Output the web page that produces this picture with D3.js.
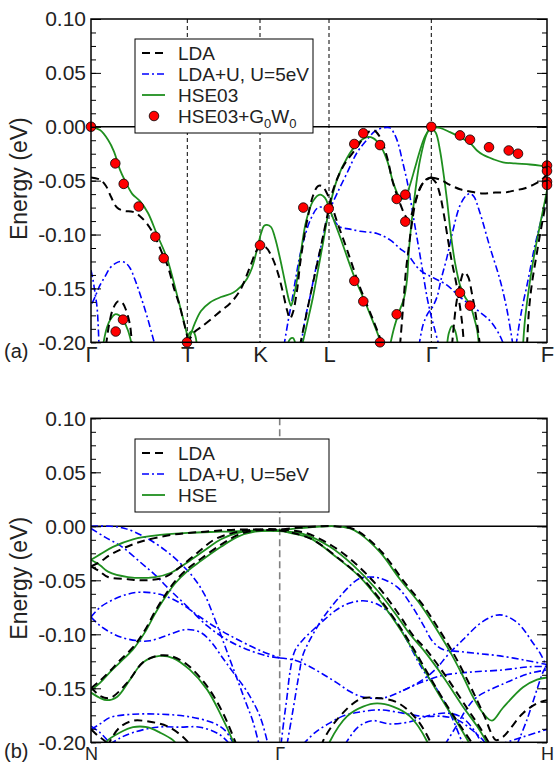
<!DOCTYPE html>
<html><head><meta charset="utf-8">
<script src="https://cdn.jsdelivr.net/npm/d3@7"></script>
<style>
body{margin:0;background:#fff}
svg{display:block}
</style>
</head><body>
<svg id="chart" width="554" height="764"></svg>
<script>
// ---- k-paths (arbitrary path-length units) ----
const pathA = [["Γ",0],["T",0.963],["K",1.69],["L",2.38],["Γ",3.403],["F",4.56]];
const pathB = [["N",0],["Γ",1.887],["H",4.56]];
const yTickVals = [0.10,0.05,0.00,-0.05,-0.10,-0.15,-0.20];
const yTickText = ["0.10","0.05","0.00","-0.05","-0.10","-0.15","-0.20"];

// ---- panel (a): bands as [k, E(eV)] ----
const ldaA = [
 [[0,-0.047],[0.09,-0.049],[0.15,-0.055],[0.20,-0.065],[0.26,-0.075],[0.33,-0.078],[0.42,-0.079],[0.49,-0.083],[0.56,-0.090],[0.64,-0.102],[0.71,-0.117],[0.77,-0.130],[0.83,-0.150],[0.88,-0.164],[0.93,-0.182],[0.97,-0.198],[0.98,-0.204]],
 [[0.96,-0.201],[1.04,-0.190],[1.10,-0.186],[1.22,-0.177],[1.31,-0.170],[1.39,-0.164],[1.49,-0.152],[1.59,-0.130],[1.65,-0.116],[1.69,-0.111],[1.75,-0.112],[1.81,-0.121],[1.87,-0.136],[1.92,-0.154],[1.96,-0.170],[1.99,-0.178],[2.02,-0.172],[2.06,-0.152],[2.09,-0.128],[2.13,-0.103],[2.17,-0.083],[2.22,-0.064],[2.27,-0.055],[2.31,-0.055],[2.35,-0.060],[2.40,-0.071],[2.46,-0.088],[2.56,-0.114],[2.69,-0.149],[2.82,-0.179],[2.92,-0.203]],
 [[2.09,-0.203],[2.19,-0.158],[2.29,-0.115],[2.36,-0.084],[2.42,-0.059],[2.52,-0.037],[2.66,-0.019],[2.76,-0.006],[2.82,-0.003],[2.89,-0.0096],[2.96,-0.028],[3.02,-0.052],[3.09,-0.071],[3.14,-0.082],[3.18,-0.087],[3.22,-0.077],[3.27,-0.062],[3.33,-0.051],[3.40,-0.047]],
 [[3.09,-0.203],[3.11,-0.180],[3.13,-0.156],[3.15,-0.133],[3.18,-0.110],[3.21,-0.089],[3.25,-0.068],[3.30,-0.055],[3.35,-0.049],[3.40,-0.047]],
 [[3.40,-0.047],[3.45,-0.052],[3.49,-0.063],[3.53,-0.082],[3.57,-0.105],[3.61,-0.126],[3.65,-0.144],[3.68,-0.161],[3.71,-0.181],[3.73,-0.203]],
 [[3.61,-0.203],[3.65,-0.166],[3.69,-0.146],[3.73,-0.135],[3.77,-0.139],[3.81,-0.155],[3.85,-0.176],[3.89,-0.203]],
 [[3.40,-0.047],[3.49,-0.049],[3.59,-0.054],[3.69,-0.058],[3.79,-0.060],[3.92,-0.062],[4.04,-0.061],[4.14,-0.061],[4.24,-0.059],[4.34,-0.057],[4.44,-0.053],[4.51,-0.049],[4.56,-0.044]],
 [[4.56,-0.064],[4.53,-0.080],[4.49,-0.100],[4.45,-0.122],[4.41,-0.145],[4.38,-0.170],[4.36,-0.203]],
 [[0.15,-0.203],[0.18,-0.184],[0.22,-0.169],[0.27,-0.162],[0.31,-0.163],[0.35,-0.170],[0.39,-0.184],[0.41,-0.203]]
];
const ldauA = [
 [[0.01,-0.164],[0.04,-0.158],[0.09,-0.147],[0.14,-0.139],[0.19,-0.131],[0.24,-0.127],[0.29,-0.125],[0.34,-0.126],[0.39,-0.131],[0.44,-0.142],[0.50,-0.158],[0.57,-0.179],[0.64,-0.203]],
 [[0,-0.133],[0.02,-0.142],[0.04,-0.154],[0.06,-0.167],[0.07,-0.181],[0.08,-0.203]],
 [[1.93,-0.203],[1.97,-0.181],[2.01,-0.161],[2.05,-0.139],[2.09,-0.119],[2.14,-0.101],[2.20,-0.085],[2.27,-0.075],[2.33,-0.075],[2.38,-0.078],[2.44,-0.088],[2.49,-0.093],[2.59,-0.095],[2.69,-0.097],[2.86,-0.099],[2.99,-0.105],[3.09,-0.113],[3.16,-0.118],[3.29,-0.133],[3.42,-0.140],[3.56,-0.147],[3.69,-0.158],[3.86,-0.170],[3.99,-0.180],[4.09,-0.194],[4.13,-0.203]],
 [[2.10,-0.203],[2.14,-0.179],[2.19,-0.158],[2.24,-0.135],[2.29,-0.115],[2.34,-0.094],[2.39,-0.077],[2.46,-0.062],[2.56,-0.043],[2.66,-0.024],[2.76,-0.012],[2.84,-0.004],[2.92,-0.001],[2.99,-0.001],[3.03,-0.006],[3.07,-0.015],[3.12,-0.034],[3.16,-0.050],[3.19,-0.065],[3.23,-0.087],[3.26,-0.103],[3.31,-0.130],[3.36,-0.158],[3.40,-0.175],[3.44,-0.189],[3.48,-0.203]],
 [[3.28,-0.203],[3.32,-0.184],[3.37,-0.173],[3.41,-0.168],[3.46,-0.158],[3.50,-0.142],[3.56,-0.121],[3.62,-0.096],[3.69,-0.073],[3.75,-0.064],[3.79,-0.062],[3.83,-0.065],[3.89,-0.080],[3.99,-0.112],[4.09,-0.142],[4.16,-0.170],[4.22,-0.203]],
 [[4.25,-0.203],[4.29,-0.179],[4.32,-0.164],[4.36,-0.147],[4.39,-0.133],[4.43,-0.114],[4.46,-0.102],[4.50,-0.087],[4.53,-0.075],[4.56,-0.063]]
];
const hseA = [
 [[0,0],[0.09,-0.003],[0.17,-0.012],[0.23,-0.023],[0.29,-0.040],[0.34,-0.050],[0.41,-0.062],[0.49,-0.069],[0.57,-0.080],[0.66,-0.100],[0.76,-0.122],[0.86,-0.156],[0.94,-0.185],[0.98,-0.200],[0.99,-0.205]],
 [[0.97,-0.200],[1.00,-0.192],[1.04,-0.182],[1.10,-0.171],[1.19,-0.163],[1.30,-0.158],[1.42,-0.154],[1.50,-0.148],[1.56,-0.141],[1.61,-0.131],[1.66,-0.114],[1.70,-0.099],[1.73,-0.092],[1.76,-0.091],[1.80,-0.093],[1.84,-0.103],[1.89,-0.122],[1.94,-0.144],[1.98,-0.161],[2.00,-0.166],[2.02,-0.161],[2.06,-0.142],[2.10,-0.116],[2.15,-0.088],[2.22,-0.069],[2.29,-0.063],[2.34,-0.066],[2.38,-0.075],[2.49,-0.102],[2.62,-0.136],[2.76,-0.167],[2.89,-0.198],[2.91,-0.205]],
 [[0.94,-0.203],[0.97,-0.194],[1.00,-0.190],[1.03,-0.191],[1.06,-0.203]],
 [[1.96,-0.204],[1.99,-0.197],[2.02,-0.196],[2.05,-0.204]],
 [[2.11,-0.203],[2.17,-0.179],[2.22,-0.158],[2.27,-0.133],[2.32,-0.108],[2.38,-0.077],[2.46,-0.049],[2.56,-0.029],[2.66,-0.016],[2.76,-0.0096],[2.82,-0.0105],[2.89,-0.017],[2.96,-0.031],[3.02,-0.051],[3.07,-0.063],[3.11,-0.067],[3.15,-0.064],[3.19,-0.054],[3.24,-0.038],[3.29,-0.022],[3.34,-0.009],[3.40,0]],
 [[3.40,0],[3.36,-0.006],[3.29,-0.031],[3.22,-0.077],[3.18,-0.114],[3.16,-0.142],[3.13,-0.159],[3.08,-0.172],[3.03,-0.187],[2.99,-0.203]],
 [[3.40,0],[3.45,-0.006],[3.49,-0.022],[3.52,-0.040],[3.56,-0.068],[3.60,-0.101],[3.64,-0.126],[3.69,-0.147],[3.74,-0.158],[3.79,-0.165],[3.83,-0.177],[3.86,-0.188],[3.88,-0.203]],
 [[3.40,0],[3.49,-0.001],[3.59,-0.005],[3.69,-0.0096],[3.79,-0.015],[3.86,-0.022],[3.92,-0.026],[4.02,-0.030],[4.12,-0.033],[4.24,-0.034],[4.39,-0.035],[4.49,-0.036],[4.56,-0.037]],
 [[4.56,-0.059],[4.53,-0.073],[4.49,-0.091],[4.45,-0.110],[4.41,-0.131],[4.37,-0.156],[4.34,-0.179],[4.32,-0.203]],
 [[3.56,-0.203],[3.58,-0.191],[3.61,-0.185],[3.64,-0.189],[3.67,-0.203]],
 [[0.12,-0.203],[0.16,-0.186],[0.20,-0.178],[0.24,-0.174],[0.28,-0.175],[0.33,-0.181],[0.37,-0.189],[0.41,-0.203]]
];
// HSE03+G0W0 quasiparticle points
const gwA = [[0,0],[0.243,-0.034],[0.327,-0.053],[0.477,-0.074],[0.643,-0.102],[0.727,-0.122],[0.32,-0.179],[0.247,-0.190],[0.96,-0.200],[1.69,-0.110],
 [2.123,-0.075],[2.377,-0.076],[2.633,-0.143],[2.723,-0.162],[2.89,-0.200],[3.057,-0.067],[3.143,-0.063],[3.143,-0.088],[3.057,-0.174],[3.69,-0.154],[3.79,-0.166],
 [2.723,-0.006],[2.633,-0.016],[2.89,-0.017],[3.403,0],[3.69,-0.008],[3.79,-0.012],[3.98,-0.019],[4.177,-0.022],[4.27,-0.025],
 [4.56,-0.036],[4.56,-0.041],[4.56,-0.051],[4.56,-0.054]];

// ---- panel (b) ----
const ldaB = [
 [[0,-0.037],[0.09,-0.033],[0.20,-0.026],[0.47,-0.015],[0.80,-0.008],[1.14,-0.005],[1.47,-0.003],[1.80,-0.0035],[1.89,-0.004],[2.01,-0.006],[2.21,-0.012],[2.48,-0.030],[2.71,-0.048],[2.91,-0.070],[3.08,-0.092],[3.21,-0.111],[3.41,-0.143],[3.58,-0.169],[3.71,-0.187],[3.82,-0.202]],
 [[0,-0.037],[0.09,-0.042],[0.17,-0.047],[0.37,-0.049],[0.54,-0.050],[0.74,-0.047],[0.90,-0.037],[1.07,-0.024],[1.24,-0.012],[1.47,-0.005],[1.74,-0.0026],[1.89,-0.003],[2.14,-0.006],[2.41,-0.018],[2.65,-0.035],[2.89,-0.058],[3.09,-0.083],[3.22,-0.101],[3.35,-0.114],[3.55,-0.139],[3.75,-0.167],[3.88,-0.185],[3.99,-0.202]],
 [[0,-0.150],[0.09,-0.143],[0.19,-0.134],[0.29,-0.124],[0.42,-0.112],[0.54,-0.096],[0.64,-0.079],[0.74,-0.064],[0.84,-0.051],[0.97,-0.039],[1.10,-0.030],[1.30,-0.017],[1.47,-0.008],[1.64,-0.004],[1.89,-0.003],[2.09,-0.0012],[2.29,0],[2.44,0],[2.61,-0.002],[2.71,-0.007],[2.91,-0.024],[3.12,-0.050],[3.32,-0.073],[3.49,-0.097],[3.62,-0.117],[3.74,-0.138],[3.85,-0.159],[3.94,-0.177],[4.00,-0.191],[4.05,-0.198],[4.12,-0.195],[4.32,-0.173],[4.46,-0.164],[4.56,-0.161]],
 [[0,-0.149],[0.09,-0.157],[0.19,-0.159],[0.36,-0.145],[0.52,-0.126],[0.66,-0.120],[0.79,-0.120],[0.96,-0.128],[1.16,-0.148],[1.32,-0.173],[1.44,-0.199],[1.46,-0.204]],
 [[0,-0.188],[0.07,-0.194],[0.14,-0.199],[0.17,-0.204]],
 [[0.17,-0.204],[0.19,-0.199],[0.29,-0.186],[0.42,-0.180],[0.59,-0.181],[0.76,-0.185],[0.92,-0.195],[1.01,-0.204]],
 [[2.31,-0.204],[2.32,-0.199],[2.46,-0.179],[2.69,-0.160],[2.86,-0.159],[3.06,-0.163],[3.26,-0.179],[3.39,-0.199],[3.41,-0.204]]
];
const ldauB = [
 [[0,0],[0.19,0],[0.34,-0.002],[0.54,-0.010],[0.74,-0.022],[0.89,-0.034],[1.03,-0.048],[1.14,-0.064],[1.23,-0.084],[1.32,-0.106],[1.42,-0.131],[1.54,-0.161],[1.62,-0.181],[1.68,-0.202]],
 [[0,-0.002],[0.14,-0.010],[0.31,-0.019],[0.49,-0.033],[0.64,-0.045],[0.79,-0.059],[0.96,-0.074],[1.16,-0.092],[1.36,-0.105],[1.56,-0.114],[1.76,-0.120],[1.89,-0.122]],
 [[0,-0.084],[0.09,-0.075],[0.22,-0.068],[0.36,-0.063],[0.49,-0.061],[0.69,-0.063],[0.89,-0.071],[1.09,-0.084],[1.29,-0.096],[1.49,-0.106],[1.69,-0.115],[1.89,-0.122]],
 [[0,-0.084],[0.09,-0.092],[0.19,-0.098],[0.31,-0.103],[0.47,-0.106],[0.59,-0.106],[0.76,-0.101],[0.92,-0.096],[1.02,-0.096],[1.11,-0.099],[1.21,-0.108],[1.31,-0.121],[1.42,-0.135],[1.56,-0.153],[1.69,-0.176],[1.77,-0.202]],
 [[0,-0.188],[0.09,-0.183],[0.19,-0.177],[0.42,-0.174],[0.69,-0.174],[0.96,-0.176],[1.22,-0.182],[1.34,-0.189],[1.43,-0.202]],
 [[0.19,-0.202],[0.29,-0.196],[0.42,-0.191],[0.66,-0.186],[0.89,-0.186],[1.09,-0.186],[1.29,-0.193],[1.39,-0.202]],
 [[0,-0.185],[0.09,-0.191],[0.17,-0.199],[0.20,-0.204]],
 [[1.96,-0.202],[2.00,-0.181],[2.04,-0.159],[2.08,-0.137],[2.12,-0.119],[2.19,-0.105],[2.29,-0.089],[2.39,-0.076],[2.49,-0.065],[2.59,-0.055],[2.69,-0.048],[2.79,-0.047],[2.89,-0.048],[3.06,-0.056],[3.19,-0.071],[3.32,-0.091],[3.42,-0.107],[3.52,-0.114],[3.69,-0.116],[3.89,-0.118],[4.09,-0.120],[4.34,-0.124],[4.56,-0.128]],
 [[1.90,-0.202],[1.93,-0.179],[1.96,-0.158],[1.99,-0.135],[2.04,-0.115],[2.12,-0.105],[2.22,-0.096],[2.34,-0.086],[2.46,-0.077],[2.59,-0.071],[2.72,-0.069],[2.86,-0.072],[2.99,-0.081],[3.09,-0.094],[3.19,-0.111],[3.32,-0.133],[3.46,-0.151],[3.59,-0.173],[3.72,-0.202]],
 [[1.89,-0.122],[2.04,-0.124],[2.19,-0.130],[2.32,-0.137],[2.46,-0.145],[2.59,-0.153],[2.72,-0.158],[2.92,-0.159],[3.12,-0.152],[3.32,-0.142],[3.46,-0.131],[3.56,-0.120],[3.72,-0.105],[3.92,-0.088],[4.09,-0.082],[4.26,-0.089],[4.42,-0.108],[4.50,-0.119],[4.56,-0.131]],
 [[3.12,-0.152],[3.32,-0.144],[3.52,-0.138],[3.79,-0.135],[4.12,-0.133],[4.39,-0.130],[4.56,-0.130]],
 [[3.54,-0.202],[3.66,-0.184],[3.77,-0.167],[3.86,-0.158],[4.12,-0.146],[4.39,-0.136],[4.56,-0.133]],
 [[2.12,-0.202],[2.24,-0.191],[2.39,-0.182],[2.54,-0.175],[2.69,-0.172],[2.89,-0.170],[3.12,-0.173],[3.32,-0.176],[3.52,-0.176],[3.66,-0.179],[3.79,-0.187],[3.92,-0.198],[3.95,-0.202]],
 [[2.54,-0.202],[2.67,-0.186],[2.81,-0.180],[2.99,-0.183],[3.19,-0.181],[3.39,-0.175],[3.57,-0.173],[3.71,-0.177],[3.84,-0.190],[3.91,-0.202]],
 [[4.26,-0.202],[4.36,-0.179],[4.46,-0.151],[4.52,-0.135],[4.56,-0.128]],
 [[4.09,-0.202],[4.32,-0.195],[4.56,-0.188]]
];
const hseB = [
 [[0,-0.031],[0.09,-0.026],[0.22,-0.019],[0.42,-0.012],[0.69,-0.008],[0.97,-0.006],[1.30,-0.005],[1.64,-0.004],[1.89,-0.004],[1.99,-0.006],[2.19,-0.011],[2.46,-0.029],[2.69,-0.047],[2.89,-0.069],[3.06,-0.091],[3.19,-0.110],[3.39,-0.142],[3.56,-0.168],[3.69,-0.186],[3.79,-0.202]],
 [[0,-0.031],[0.09,-0.036],[0.17,-0.042],[0.37,-0.047],[0.64,-0.047],[0.80,-0.043],[0.97,-0.033],[1.14,-0.022],[1.30,-0.012],[1.47,-0.006],[1.70,-0.004],[1.89,-0.0045],[2.12,-0.007],[2.39,-0.019],[2.62,-0.036],[2.86,-0.059],[3.06,-0.083],[3.19,-0.100],[3.32,-0.114],[3.52,-0.139],[3.72,-0.167],[3.86,-0.185],[3.97,-0.202]],
 [[0,-0.152],[0.09,-0.145],[0.19,-0.135],[0.29,-0.126],[0.42,-0.114],[0.54,-0.098],[0.64,-0.081],[0.74,-0.066],[0.84,-0.053],[0.97,-0.041],[1.10,-0.032],[1.30,-0.019],[1.47,-0.0095],[1.64,-0.005],[1.89,-0.0035],[2.09,-0.0017],[2.29,-0.0003],[2.44,0],[2.59,-0.002],[2.69,-0.007],[2.89,-0.024],[3.09,-0.049],[3.29,-0.072],[3.46,-0.096],[3.59,-0.116],[3.71,-0.137],[3.82,-0.158],[3.92,-0.173],[4.01,-0.180],[4.12,-0.168],[4.32,-0.149],[4.46,-0.142],[4.56,-0.140]],
 [[0,-0.154],[0.09,-0.159],[0.16,-0.161],[0.26,-0.158],[0.39,-0.142],[0.52,-0.126],[0.69,-0.120],[0.82,-0.122],[0.99,-0.133],[1.16,-0.151],[1.29,-0.173],[1.42,-0.199],[1.44,-0.204]],
 [[0.14,-0.204],[0.16,-0.199],[0.29,-0.191],[0.42,-0.186],[0.56,-0.186],[0.69,-0.191],[0.82,-0.198],[0.87,-0.204]],
 [[2.37,-0.204],[2.39,-0.199],[2.56,-0.176],[2.72,-0.167],[2.86,-0.164],[3.02,-0.167],[3.19,-0.176],[3.36,-0.199],[3.38,-0.204]]
];

// ---- layout ----
const FONT = '"Liberation Sans", Arimo, Arial, Helvetica, sans-serif';
const svg = d3.select("#chart");
const x = d3.scaleLinear().domain([0, 4.56]).range([91, 547]);
const yA = d3.scaleLinear().domain([-0.2, 0.1]).range([342.3, 19]);
const yB = d3.scaleLinear().domain([-0.2, 0.1]).range([742.3, 418.3]);

const COL = {lda:"#000000", ldau:"#0000ff", hse:"#1f8f1f", gw:"#ff0000"};
const STY = {
  lda:  {stroke:COL.lda,  width:2,   dash:"8,5"},
  ldau: {stroke:COL.ldau, width:1.6, dash:"7,3,2,3"},
  hse:  {stroke:COL.hse,  width:1.8, dash:null}
};

function label(sel, size){
  return sel.style("font-family", FONT).style("font-size", size + "px").style("fill", "#222");
}

function drawPanel(id, y, path, series, dots, tag, symStyle, xFont, xBase){
  const g = svg.append("g");
  const [x0, x1] = x.range();
  const [yb, yt] = y.range();
  svg.append("clipPath").attr("id", "clip"+id)
    .append("rect").attr("x", x0).attr("y", yt).attr("width", x1-x0).attr("height", yb-yt);

  // high-symmetry lines
  g.selectAll(".sym").data(path.slice(1, -1)).join("line")
    .attr("x1", d => x(d[1])).attr("x2", d => x(d[1]))
    .attr("y1", yt).attr("y2", yb)
    .attr("stroke", symStyle.color).attr("stroke-width", symStyle.width)
    .attr("stroke-dasharray", symStyle.dash);

  // valence band maximum reference
  g.append("line").attr("x1", x0).attr("x2", x1).attr("y1", y(0)).attr("y2", y(0))
    .attr("stroke", "#000").attr("stroke-width", 1.4);

  const line = d3.line().x(d => x(d[0])).y(d => y(d[1])).curve(d3.curveCatmullRom.alpha(0.5));
  const bands = g.append("g").attr("clip-path", `url(#clip${id})`);
  for (const [key, data] of series) {
    const s = STY[key];
    bands.append("g").selectAll("path").data(data).join("path")
      .attr("d", line).attr("fill", "none")
      .attr("stroke", s.stroke).attr("stroke-width", s.width)
      .attr("stroke-dasharray", s.dash);
  }
  if (dots) {
    g.append("g").selectAll("circle").data(dots).join("circle")
      .attr("cx", d => x(d[0])).attr("cy", d => y(d[1])).attr("r", 4.8)
      .attr("fill", COL.gw).attr("stroke", "#000").attr("stroke-width", 0.8);
  }

  // frame
  g.append("rect").attr("x", x0).attr("y", yt).attr("width", x1-x0).attr("height", yb-yt)
    .attr("fill", "none").attr("stroke", "#000").attr("stroke-width", 1.5);

  // y axes: major + minor ticks, inward on both sides
  const minor = d3.range(-0.2, 0.1001, 0.0125);
  const left = g.append("g").attr("transform", `translate(${x0},0)`)
    .call(d3.axisLeft(y).tickValues(yTickVals).tickSize(-10).tickPadding(5)
      .tickFormat((d, i) => yTickText[i]));
  left.append("g").call(d3.axisLeft(y).tickValues(minor).tickSize(-5).tickFormat(""));
  const right = g.append("g").attr("transform", `translate(${x1},0)`)
    .call(d3.axisRight(y).tickValues(yTickVals).tickSize(-10).tickFormat(""));
  right.append("g").call(d3.axisRight(y).tickValues(minor).tickSize(-5).tickFormat(""));
  g.selectAll(".domain").remove();
  g.selectAll(".tick line").attr("stroke", "#000").attr("stroke-width", 1);
  label(left.selectAll("text"), 21);

  // x axis labels, placed on an explicit baseline below the frame
  const xa = g.append("g").attr("transform", `translate(0,${yb})`)
    .call(d3.axisBottom(x).tickValues(path.map(p => p[1])).tickSize(0)
      .tickFormat((d, i) => path[i][0]));
  xa.select(".domain").remove();
  label(xa.selectAll("text").attr("dy", null).attr("y", xBase), xFont);

  // y title
  label(svg.append("text").attr("transform", `translate(27,${(yt+yb)/2 - 2}) rotate(-90)`)
    .attr("text-anchor", "middle").text("Energy (eV)"), 23);
  // panel tag
  label(svg.append("text").attr("x", 4).attr("y", yb + 16).text(tag), 20);
}

function drawLegend(bx, by, w, h, entries){
  const g = svg.append("g");
  g.append("rect").attr("x", bx).attr("y", by).attr("width", w).attr("height", h)
    .attr("fill", "#fff").attr("stroke", "#000").attr("stroke-width", 1);
  entries.forEach((e, i) => {
    const cy = by + 14 + i * 21;
    if (e.key === "gw") {
      g.append("circle").attr("cx", bx + 19).attr("cy", cy).attr("r", 4.8)
        .attr("fill", COL.gw).attr("stroke", "#000").attr("stroke-width", 0.8);
    } else {
      const s = STY[e.key];
      g.append("line").attr("x1", bx + 7).attr("x2", bx + 30).attr("y1", cy).attr("y2", cy)
        .attr("stroke", s.stroke).attr("stroke-width", s.width).attr("stroke-dasharray", s.dash);
    }
    const t = label(g.append("text").attr("x", bx + 43).attr("y", cy + 7), 19);
    if (e.sub) {
      t.append("tspan").text("HSE03+G");
      t.append("tspan").style("font-size", "13px").attr("dy", 5).text("0");
      t.append("tspan").attr("dy", -5).text("W");
      t.append("tspan").style("font-size", "13px").attr("dy", 5).text("0");
    } else t.text(e.label);
  });
}

drawPanel("a", yA, pathA, [["ldau", ldauA], ["hse", hseA], ["lda", ldaA]], gwA, "(a)",
  {color:"#000", width:1, dash:"4,3"}, 22, 19.5);
drawPanel("b", yB, pathB, [["ldau", ldauB], ["hse", hseB], ["lda", ldaB]], null, "(b)",
  {color:"#808080", width:1.6, dash:"7,4"}, 18, 17.5);

drawLegend(135, 39, 178, 94, [
  {key:"lda", label:"LDA"}, {key:"ldau", label:"LDA+U, U=5eV"},
  {key:"hse", label:"HSE03"}, {key:"gw", sub:true}]);
drawLegend(135, 439, 194, 73, [
  {key:"lda", label:"LDA"}, {key:"ldau", label:"LDA+U, U=5eV"}, {key:"hse", label:"HSE"}]);
</script>
</body></html>
